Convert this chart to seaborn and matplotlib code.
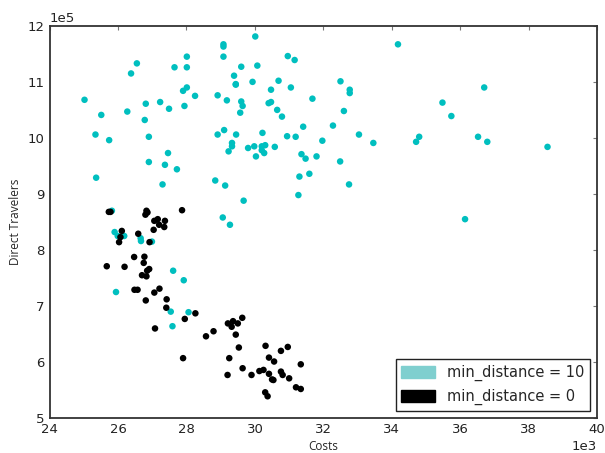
import matplotlib
matplotlib.use("Agg")
import matplotlib.pyplot as plt
import matplotlib.patches as mpatches
import seaborn as sns
import pandas as pd

# Costs in units of 1e3, Direct Travelers in units of 1e5
teal_x = [30.01, 29.08, 29.08, 29.08, 28.01, 28.01, 27.65, 26.55, 26.38, 29.60,
          30.07, 30.96, 31.16, 29.39, 29.44, 29.44, 29.93, 30.69, 30.47, 31.05,
          31.68, 28.01, 27.90, 28.25, 27.94, 25.02, 26.81, 27.23, 27.49, 26.27,
          25.51, 26.78, 28.91, 29.18, 29.60, 29.64, 29.57, 30.40, 30.47, 30.65,
          30.79, 25.34, 25.74, 26.90, 28.91, 29.10, 29.45, 29.33, 29.33, 29.23,
          29.80, 29.98, 30.22, 30.03, 30.20, 30.30, 30.20, 30.27, 30.58, 30.94,
          31.19, 31.41, 31.97, 31.36, 31.48, 31.80, 31.59, 31.30, 31.27, 27.46,
          26.90, 27.37, 27.72, 25.36, 27.30, 28.84, 29.13, 29.67, 29.06, 25.82,
          34.18, 32.50, 32.77, 32.77, 32.60, 32.28, 33.04, 33.46, 32.49, 32.75,
          35.48, 35.74, 36.70, 34.80, 34.71, 36.52, 36.79, 38.55, 36.14, 29.27,
          25.90, 25.99, 26.18, 26.66, 26.67, 26.99, 27.61, 27.92, 25.94, 27.54,
          28.06, 27.59]
teal_y = [11.81, 11.67, 11.63, 11.45, 11.45, 11.26, 11.26, 11.33, 11.15, 11.27,
          11.29, 11.46, 11.39, 11.11, 10.96, 10.95, 11.00, 11.02, 10.86, 10.90,
          10.70, 10.90, 10.84, 10.75, 10.57, 10.68, 10.61, 10.64, 10.52, 10.47,
          10.41, 10.32, 10.76, 10.67, 10.65, 10.57, 10.45, 10.62, 10.64, 10.50,
          10.38, 10.06, 9.96, 10.02, 10.06, 10.14, 10.06, 9.91, 9.85, 9.76,
          9.82, 9.85, 10.09, 9.67, 9.85, 9.87, 9.78, 9.73, 9.84, 10.03,
          10.02, 10.20, 9.95, 9.71, 9.63, 9.67, 9.36, 9.31, 8.98, 9.73,
          9.57, 9.52, 9.44, 9.29, 9.17, 9.24, 9.15, 8.88, 8.58, 8.70,
          11.67, 11.01, 10.86, 10.80, 10.48, 10.22, 10.06, 9.91, 9.58, 9.17,
          10.63, 10.39, 10.90, 10.02, 9.93, 10.02, 9.93, 9.84, 8.55, 8.45,
          8.32, 8.25, 8.25, 8.21, 8.16, 8.15, 7.63, 7.46, 7.25, 6.90,
          6.89, 6.64]

black_x = [25.73, 25.78, 26.83, 26.86, 26.80, 27.87, 27.06, 27.16, 27.37, 27.20,
           27.35, 27.04, 26.11, 26.07, 26.03, 26.59, 26.92, 26.47, 26.77, 26.75,
           25.67, 26.19, 26.91, 26.85, 26.70, 26.83, 26.48, 26.57, 27.21, 27.06,
           26.81, 27.42, 27.41, 27.95, 28.26, 27.08, 27.90, 28.57, 28.79, 29.21,
           29.36, 29.50, 29.32, 29.63, 29.44, 29.53, 29.25, 29.20, 29.64, 29.90,
           30.13, 30.25, 30.31, 30.41, 30.56, 30.41, 30.50, 30.54, 30.30, 30.37,
           30.76, 30.96, 30.76, 30.81, 31.00, 31.34, 31.20, 31.34]
black_y = [8.68, 8.68, 8.70, 8.67, 8.63, 8.71, 8.52, 8.55, 8.52, 8.45,
           8.41, 8.36, 8.34, 8.23, 8.14, 8.29, 8.14, 7.875, 7.88, 7.77,
           7.71, 7.70, 7.66, 7.63, 7.55, 7.53, 7.29, 7.29, 7.31, 7.24,
           7.10, 7.12, 6.97, 6.77, 6.87, 6.60, 6.07, 6.46, 6.55, 6.69,
           6.73, 6.69, 6.63, 6.79, 6.49, 6.26, 6.07, 5.77, 5.89, 5.77,
           5.84, 5.86, 6.29, 6.08, 6.01, 5.79, 5.69, 5.68, 5.46, 5.39,
           6.20, 6.27, 5.83, 5.77, 5.71, 5.96, 5.55, 5.52]

labels = ["min_distance = 10", "min_distance = 0"]
teal_color = (0.0, 0.75, 0.75)
legend_teal = "#7fcfcf"

df = pd.DataFrame({
    "Costs": [v * 1e3 for v in teal_x + black_x],
    "Direct Travelers": [v * 1e5 for v in teal_y + black_y],
    "group": [labels[0]] * len(teal_x) + [labels[1]] * len(black_x),
})

sns.set_style("white")
plt.rcParams["font.family"] = ["DejaVu Sans"]
plt.rcParams["xtick.direction"] = "in"
plt.rcParams["ytick.direction"] = "in"

fig = plt.figure(figsize=(6.05, 4.53), dpi=100)
ax = fig.add_axes([0.082, 0.077, 0.905, 0.866])

sns.scatterplot(data=df, x="Costs", y="Direct Travelers", hue="group",
                palette={labels[0]: teal_color, labels[1]: "black"},
                s=22, linewidth=0, legend=False, ax=ax)

ax.set_xlim(24000, 40000)
ax.set_ylim(500000, 1200000)
ax.set_xticks([24000 + 2000 * i for i in range(9)])
ax.set_yticks([500000 + 100000 * i for i in range(8)])
ax.ticklabel_format(style="sci", scilimits=(3, 3), axis="x")
ax.ticklabel_format(style="sci", scilimits=(5, 5), axis="y")
ax.tick_params(axis="both", which="major", labelsize=9.5, length=3, width=0.8,
               top=True, right=True, color="#777777", labelcolor="#222222")
ax.xaxis.get_offset_text().set_fontsize(9.5)
ax.yaxis.get_offset_text().set_fontsize(9.5)
ax.set_xlabel("Costs", fontsize=8.5, labelpad=3, family=["Open Sans", "DejaVu Sans"])
ax.set_ylabel("Direct Travelers", fontsize=8.5, labelpad=4,
              family=["Open Sans", "DejaVu Sans"])
for sp in ax.spines.values():
    sp.set_visible(True)
    sp.set_color("#333333")
    sp.set_linewidth(1.3)

handles = [mpatches.Patch(color=legend_teal, label=labels[0]),
           mpatches.Patch(color="black", label=labels[1])]
leg = ax.legend(handles=handles, loc="lower right", fontsize=10.5,
                frameon=True, fancybox=False, framealpha=1,
                borderpad=0.4, handlelength=2.3, handleheight=0.9,
                borderaxespad=0.5)
leg.get_frame().set_edgecolor("#222222")
leg.get_frame().set_linewidth(1.0)

fig.savefig("out.png", dpi=100, facecolor="white")
